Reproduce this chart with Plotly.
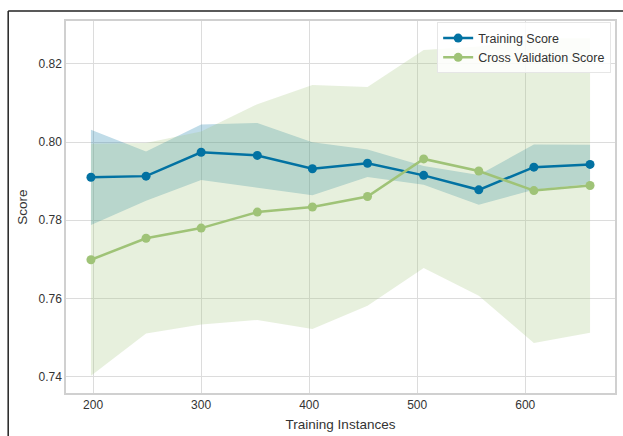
import numpy as np
import plotly.graph_objects as go

# Learning-curve data: training set sizes, mean scores and their standard deviations
train_sizes = [198, 249, 300, 352, 403, 454, 506, 557, 608, 660]
train_mean = [0.7910, 0.7913, 0.7974, 0.7966, 0.7932, 0.7946, 0.7915, 0.7878, 0.7936, 0.7943]
train_std = [0.0122, 0.0063, 0.0071, 0.0083, 0.0068, 0.0035, 0.0024, 0.0038, 0.0058, 0.0050]
cv_mean = [0.7699, 0.7754, 0.7780, 0.7821, 0.7834, 0.7861, 0.7957, 0.7926, 0.7876, 0.7889]
cv_std = [0.0297, 0.0244, 0.0247, 0.0276, 0.0312, 0.0280, 0.0279, 0.0319, 0.0390, 0.0377]

BLUE = "#0272a2"
GREEN = "#9fc377"
TEXT = "#333333"
FONT = "Liberation Sans, Arial, sans-serif"

tm, ts = np.array(train_mean), np.array(train_std)
cm, cs = np.array(cv_mean), np.array(cv_std)

fig = go.Figure()


def band(mean, std, color_rgba):
    fig.add_trace(go.Scatter(x=train_sizes, y=mean + std, mode="lines",
                             line=dict(width=0), showlegend=False, hoverinfo="skip"))
    fig.add_trace(go.Scatter(x=train_sizes, y=mean - std, mode="lines",
                             line=dict(width=0), fill="tonexty", fillcolor=color_rgba,
                             showlegend=False, hoverinfo="skip"))


band(tm, ts, "rgba(2,114,162,0.25)")
band(cm, cs, "rgba(159,195,119,0.25)")

fig.add_trace(go.Scatter(x=train_sizes, y=train_mean, mode="lines+markers",
                         name="Training Score",
                         line=dict(color=BLUE, width=2.5),
                         marker=dict(color=BLUE, size=9)))
fig.add_trace(go.Scatter(x=train_sizes, y=cv_mean, mode="lines+markers",
                         name="Cross Validation Score",
                         line=dict(color=GREEN, width=2.5),
                         marker=dict(color=GREEN, size=9)))

axis_common = dict(showgrid=True, gridcolor="#dcdcdc", gridwidth=1.3,
                   showline=True, linecolor="#d0d0d0", linewidth=1.5, mirror=True,
                   zeroline=False, ticks="", tickfont=dict(size=12, color=TEXT, family=FONT))

fig.update_xaxes(range=[174.9, 683.1], tickvals=[200, 300, 400, 500, 600],
                 title=dict(text="Training Instances", font=dict(size=13.5, color=TEXT, family=FONT),
                            standoff=8),
                 **axis_common)
fig.update_yaxes(range=[0.7358, 0.8310], tickvals=[0.74, 0.76, 0.78, 0.80, 0.82],
                 tickformat=".2f",
                 title=dict(text="Score", font=dict(size=13.5, color=TEXT, family=FONT),
                            standoff=8),
                 **axis_common)

# Figure frame along the left and top edges
fig.add_shape(type="line", xref="paper", yref="paper", x0=-0.1053, x1=-0.1053,
              y0=1.0268, y1=-0.2, line=dict(color="#222222", width=1.5))
fig.add_shape(type="line", xref="paper", yref="paper", x0=-0.1053, x1=1.2,
              y0=1.0268, y1=1.0268, line=dict(color="#222222", width=1.5))

fig.update_layout(
    width=623, height=436,
    margin=dict(l=66, r=6, t=21, b=42),
    plot_bgcolor="white", paper_bgcolor="white",
    font=dict(family=FONT, color=TEXT, size=12),
    legend=dict(x=0.993, y=0.996, xanchor="right", yanchor="top",
                traceorder="normal",
                bgcolor="rgba(255,255,255,0.85)", bordercolor="#e6e6e6", borderwidth=1,
                font=dict(size=12.5, color=TEXT, family=FONT),
                tracegroupgap=0, itemwidth=30),
    showlegend=True,
)

fig.write_html("out.html")
